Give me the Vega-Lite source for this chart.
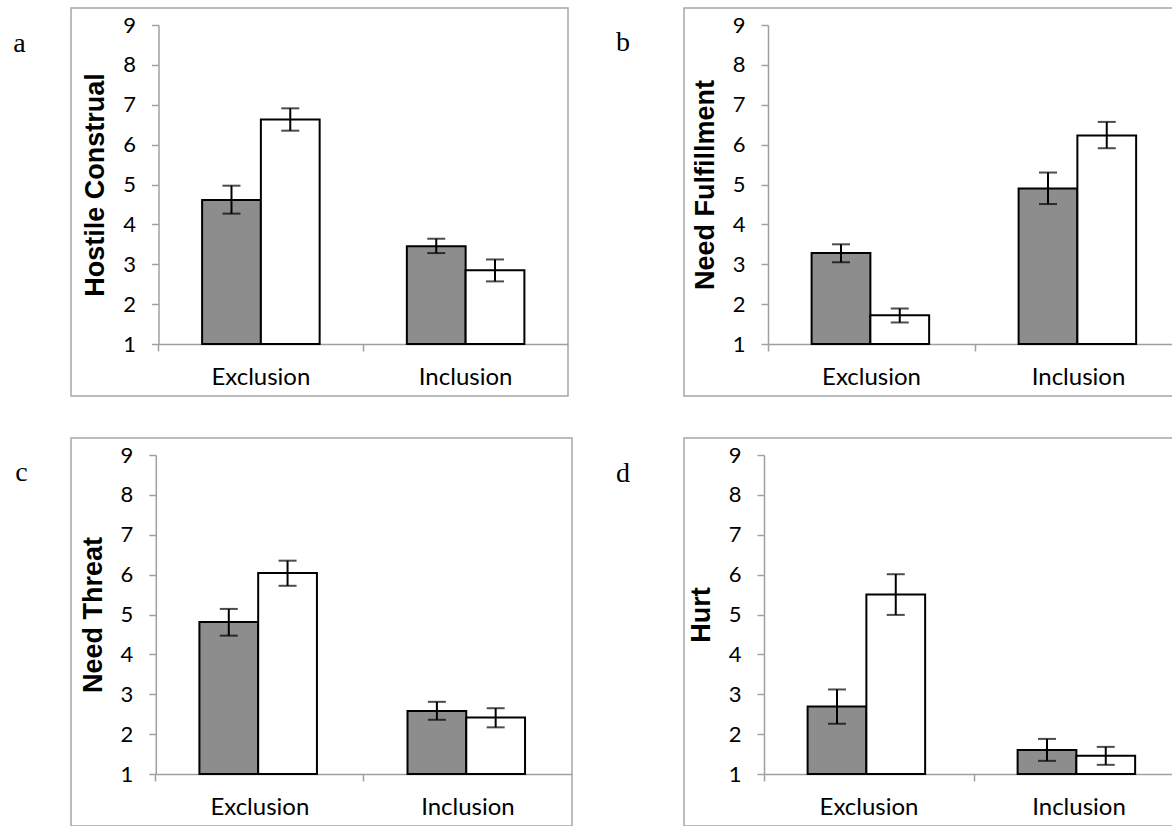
{
  "$schema": "https://vega.github.io/schema/vega-lite/v6.json",
  "padding": {"top": 7, "left": 12, "right": 0, "bottom": 0},
  "background": "white",
  "datasets": {
    "all": [
      {"panel": "a", "condition": "Exclusion", "group": "1", "mean": 4.61, "lo": 4.27, "hi": 4.97},
      {"panel": "a", "condition": "Exclusion", "group": "2", "mean": 6.63, "lo": 6.35, "hi": 6.91},
      {"panel": "a", "condition": "Inclusion", "group": "1", "mean": 3.45, "lo": 3.28, "hi": 3.64},
      {"panel": "a", "condition": "Inclusion", "group": "2", "mean": 2.85, "lo": 2.57, "hi": 3.12},
      {"panel": "b", "condition": "Exclusion", "group": "1", "mean": 3.28, "lo": 3.05, "hi": 3.50},
      {"panel": "b", "condition": "Exclusion", "group": "2", "mean": 1.72, "lo": 1.54, "hi": 1.89},
      {"panel": "b", "condition": "Inclusion", "group": "1", "mean": 4.90, "lo": 4.51, "hi": 5.30},
      {"panel": "b", "condition": "Inclusion", "group": "2", "mean": 6.23, "lo": 5.91, "hi": 6.57},
      {"panel": "c", "condition": "Exclusion", "group": "1", "mean": 4.81, "lo": 4.47, "hi": 5.14},
      {"panel": "c", "condition": "Exclusion", "group": "2", "mean": 6.04, "lo": 5.72, "hi": 6.35},
      {"panel": "c", "condition": "Inclusion", "group": "1", "mean": 2.58, "lo": 2.36, "hi": 2.81},
      {"panel": "c", "condition": "Inclusion", "group": "2", "mean": 2.42, "lo": 2.17, "hi": 2.65},
      {"panel": "d", "condition": "Exclusion", "group": "1", "mean": 2.69, "lo": 2.26, "hi": 3.12},
      {"panel": "d", "condition": "Exclusion", "group": "2", "mean": 5.50, "lo": 4.99, "hi": 6.01},
      {"panel": "d", "condition": "Inclusion", "group": "1", "mean": 1.60, "lo": 1.33, "hi": 1.88},
      {"panel": "d", "condition": "Inclusion", "group": "2", "mean": 1.46, "lo": 1.23, "hi": 1.68}
    ]
  },
  "spacing": 40,
  "vconcat": [
    {
      "spacing": 46,
      "hconcat": [
        {
          "width": 497, "height": 388,
          "title": {"text": "a", "offset": 33, "dy": 21.5},
          "data": {"name": "all"},
          "transform": [{"filter": "datum.panel === 'a'"}],
          "encoding": {
            "x": {"field": "condition", "type": "nominal", "sort": ["Exclusion", "Inclusion"], "title": null,
                  "scale": {"range": [87.5, 497], "paddingInner": 0, "paddingOuter": 0},
                  "axis": {"offset": -52}},
            "xOffset": {"field": "group", "type": "nominal", "sort": ["1", "2"], "scale": {"paddingInner": 0, "paddingOuter": 0.742}}
          },
          "layer": [
            {"mark": {"type": "bar", "stroke": "black", "strokeWidth": 2},
             "encoding": {
               "y": {"field": "mean", "type": "quantitative", "title": "Hostile Construal",
                     "scale": {"domain": [1, 9], "range": [336, 17], "nice": false, "zero": false},
                     "axis": {"values": [1, 2, 3, 4, 5, 6, 7, 8, 9], "offset": -87.5}},
               "y2": {"datum": 1},
               "color": {"field": "group", "type": "nominal", "scale": {"domain": ["1", "2"], "range": ["#8d8d8d", "#ffffff"]}, "legend": null}
             }},
            {"mark": {"type": "rule", "color": "black", "strokeWidth": 2},
             "encoding": {"y": {"field": "lo", "type": "quantitative", "title": "Hostile Construal"}, "y2": {"field": "hi"}}},
            {"mark": {"type": "tick", "color": "black", "thickness": 2, "size": 18},
             "encoding": {"y": {"field": "lo", "type": "quantitative", "title": "Hostile Construal"}}},
            {"mark": {"type": "tick", "color": "black", "thickness": 2, "size": 18},
             "encoding": {"y": {"field": "hi", "type": "quantitative", "title": "Hostile Construal"}}}
          ]
        },
        {
          "width": 498, "height": 388,
          "title": {"text": "b", "offset": 40, "dy": 20.6},
          "data": {"name": "all"},
          "transform": [{"filter": "datum.panel === 'b'"}],
          "encoding": {
            "x": {"field": "condition", "type": "nominal", "sort": ["Exclusion", "Inclusion"], "title": null,
                  "scale": {"range": [84, 498], "paddingInner": 0, "paddingOuter": 0},
                  "axis": {"offset": -52}},
            "xOffset": {"field": "group", "type": "nominal", "sort": ["1", "2"], "scale": {"paddingInner": 0, "paddingOuter": 0.742}}
          },
          "layer": [
            {"mark": {"type": "bar", "stroke": "black", "strokeWidth": 2},
             "encoding": {
               "y": {"field": "mean", "type": "quantitative", "title": "Need Fulfillment",
                     "scale": {"domain": [1, 9], "range": [336, 17], "nice": false, "zero": false},
                     "axis": {"values": [1, 2, 3, 4, 5, 6, 7, 8, 9], "offset": -84}},
               "y2": {"datum": 1},
               "color": {"field": "group", "type": "nominal", "scale": {"domain": ["1", "2"], "range": ["#8d8d8d", "#ffffff"]}, "legend": null}
             }},
            {"mark": {"type": "rule", "color": "black", "strokeWidth": 2},
             "encoding": {"y": {"field": "lo", "type": "quantitative", "title": "Need Fulfillment"}, "y2": {"field": "hi"}}},
            {"mark": {"type": "tick", "color": "black", "thickness": 2, "size": 18},
             "encoding": {"y": {"field": "lo", "type": "quantitative", "title": "Need Fulfillment"}}},
            {"mark": {"type": "tick", "color": "black", "thickness": 2, "size": 18},
             "encoding": {"y": {"field": "hi", "type": "quantitative", "title": "Need Fulfillment"}}}
          ]
        }
      ]
    },
    {
      "spacing": 42,
      "hconcat": [
        {
          "width": 501, "height": 388,
          "title": {"text": "c", "offset": 31, "dy": 20.7},
          "data": {"name": "all"},
          "transform": [{"filter": "datum.panel === 'c'"}],
          "encoding": {
            "x": {"field": "condition", "type": "nominal", "sort": ["Exclusion", "Inclusion"], "title": null,
                  "scale": {"range": [84.8, 501], "paddingInner": 0, "paddingOuter": 0},
                  "axis": {"offset": -52}},
            "xOffset": {"field": "group", "type": "nominal", "sort": ["1", "2"], "scale": {"paddingInner": 0, "paddingOuter": 0.742}}
          },
          "layer": [
            {"mark": {"type": "bar", "stroke": "black", "strokeWidth": 2},
             "encoding": {
               "y": {"field": "mean", "type": "quantitative", "title": "Need Threat",
                     "scale": {"domain": [1, 9], "range": [336, 17], "nice": false, "zero": false},
                     "axis": {"values": [1, 2, 3, 4, 5, 6, 7, 8, 9], "offset": -84.8}},
               "y2": {"datum": 1},
               "color": {"field": "group", "type": "nominal", "scale": {"domain": ["1", "2"], "range": ["#8d8d8d", "#ffffff"]}, "legend": null}
             }},
            {"mark": {"type": "rule", "color": "black", "strokeWidth": 2},
             "encoding": {"y": {"field": "lo", "type": "quantitative", "title": "Need Threat"}, "y2": {"field": "hi"}}},
            {"mark": {"type": "tick", "color": "black", "thickness": 2, "size": 18},
             "encoding": {"y": {"field": "lo", "type": "quantitative", "title": "Need Threat"}}},
            {"mark": {"type": "tick", "color": "black", "thickness": 2, "size": 18},
             "encoding": {"y": {"field": "hi", "type": "quantitative", "title": "Need Threat"}}}
          ]
        },
        {
          "width": 500, "height": 388,
          "title": {"text": "d", "offset": 40, "dy": 22.4},
          "data": {"name": "all"},
          "transform": [{"filter": "datum.panel === 'd'"}],
          "encoding": {
            "x": {"field": "condition", "type": "nominal", "sort": ["Exclusion", "Inclusion"], "title": null,
                  "scale": {"range": [80, 500], "paddingInner": 0, "paddingOuter": 0},
                  "axis": {"offset": -52}},
            "xOffset": {"field": "group", "type": "nominal", "sort": ["1", "2"], "scale": {"paddingInner": 0, "paddingOuter": 0.742}}
          },
          "layer": [
            {"mark": {"type": "bar", "stroke": "black", "strokeWidth": 2},
             "encoding": {
               "y": {"field": "mean", "type": "quantitative", "title": "Hurt",
                     "scale": {"domain": [1, 9], "range": [336, 17], "nice": false, "zero": false},
                     "axis": {"values": [1, 2, 3, 4, 5, 6, 7, 8, 9], "offset": -80}},
               "y2": {"datum": 1},
               "color": {"field": "group", "type": "nominal", "scale": {"domain": ["1", "2"], "range": ["#8d8d8d", "#ffffff"]}, "legend": null}
             }},
            {"mark": {"type": "rule", "color": "black", "strokeWidth": 2},
             "encoding": {"y": {"field": "lo", "type": "quantitative", "title": "Hurt"}, "y2": {"field": "hi"}}},
            {"mark": {"type": "tick", "color": "black", "thickness": 2, "size": 18},
             "encoding": {"y": {"field": "lo", "type": "quantitative", "title": "Hurt"}}},
            {"mark": {"type": "tick", "color": "black", "thickness": 2, "size": 18},
             "encoding": {"y": {"field": "hi", "type": "quantitative", "title": "Hurt"}}}
          ]
        }
      ]
    }
  ],
  "config": {
    "view": {"stroke": "#a6a6a6", "strokeWidth": 1.5},
    "axis": {"domainColor": "#a0a0a0", "tickColor": "#a0a0a0", "domainWidth": 1.5, "tickWidth": 1.5, "tickSize": 7, "grid": false,
             "labelColor": "black", "labelFont": "Lato", "titleFont": "Liberation Sans", "titleFontWeight": "bold", "titleFontSize": 27, "titleColor": "black"},
    "axisX": {"labelFontSize": 24, "labelPadding": 14, "labelAngle": 0, "bandPosition": 0},
    "axisY": {"labelFontSize": 22, "labelPadding": 16, "titlePadding": 13},
    "title": {"orient": "left", "angle": 0, "anchor": "end", "align": "right", "baseline": "alphabetic", "font": "Liberation Serif", "fontSize": 28, "fontWeight": "normal", "color": "black"}
  }
}
